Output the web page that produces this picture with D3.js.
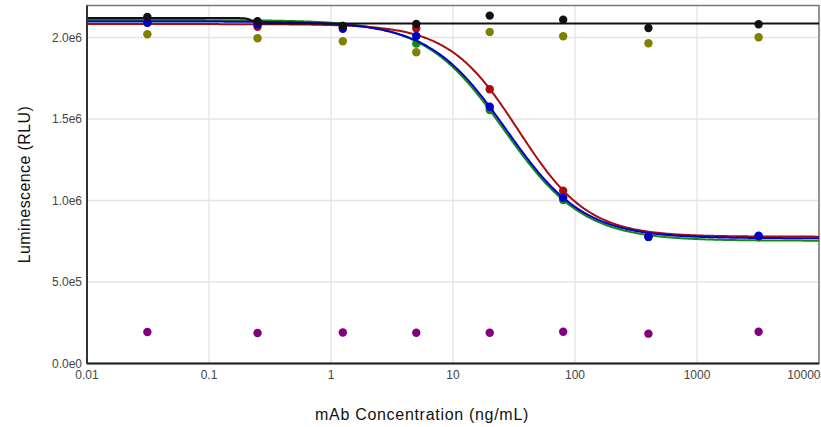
<!DOCTYPE html>
<html>
<head>
<meta charset="utf-8">
<script src="https://cdn.jsdelivr.net/npm/d3@7"></script>
<style>
    body { margin: 0; background: #fff; }
    svg { display: block; font-family: "Liberation Sans", Arial, sans-serif; }
</style>
</head>
<body>
<div id="curve-chart"></div>
<script>
// concentrations (ng/mL)
var concentrations = [0.03125, 0.25, 1.25, 5, 20, 80, 400, 3200];

// measured luminescence (RLU)
var red_values    = [2.09e6, 2.066e6, 2.07e6, 2.057e6, 1.682e6, 1.06e6, 0.78e6, 0.78e6];
var green_values  = [2.11e6, 2.09e6, 2.06e6, 1.962e6, 1.555e6, 1.003e6, 0.775e6, 0.775e6];
var blue_values   = [2.09e6, 2.08e6, 2.053e6, 2.009e6, 1.575e6, 1.017e6, 0.778e6, 0.784e6];
var black_values  = [2.126e6, 2.10e6, 2.07e6, 2.083e6, 2.134e6, 2.109e6, 2.058e6, 2.081e6];
var olive_values  = [2.02e6, 1.995e6, 1.977e6, 1.909e6, 2.034e6, 2.007e6, 1.964e6, 2.001e6];
var purple_values = [0.193e6, 0.187e6, 0.19e6, 0.189e6, 0.189e6, 0.195e6, 0.183e6, 0.195e6];

// 4PL fit parameters: [top, bottom, EC50, hill]
var red_fit   = [2.082e6, 0.778e6, 34.4, 1.52];
var green_fit = [2.107e6, 0.753e6, 26.4, 1.34];
var blue_fit  = [2.098e6, 0.768e6, 27.4, 1.37];
var black_fit = [2.119e6, 2.085e6, 0.225, 20];

var x_ticks = [0.01, 0.1, 1, 10, 100, 1000, 10000];
var x_tick_labels = ["0.01", "0.1", "1", "10", "100", "1000", "10000"];
var y_ticks = [0, 0.5e6, 1.0e6, 1.5e6, 2.0e6];
var y_tick_labels = ["0.0e0", "5.0e5", "1.0e6", "1.5e6", "2.0e6"];

var series = [
    { name: "purple", color: "#800080", values: purple_values, fit: null },
    { name: "olive",  color: "#808000", values: olive_values,  fit: null },
    { name: "green",  color: "#118a11", values: green_values,  fit: green_fit },
    { name: "red",    color: "#a80c0c", values: red_values,    fit: red_fit },
    { name: "blue",   color: "#0000cc", values: blue_values,   fit: blue_fit },
    { name: "black",  color: "#111111", values: black_values,  fit: black_fit }
];

const margin = { top: 5.5, left: 87, right: 2, bottom: 63.5 };
const svg = d3.select("#curve-chart").append("svg")
    .attr("width", 821)
    .attr("height", 427);
const width = 821 - margin.left - margin.right;
const height = 427 - margin.top - margin.bottom;
const canvas = svg.append("g")
    .attr("transform", `translate(${margin.left},${margin.top})`);

var xScale = d3.scaleLog().domain([0.01, 10000]).range([0, width]);
var yScale = d3.scaleLinear().domain([0, 2.196e6]).range([height, 0]);

// grid
canvas.append("g")
    .selectAll("line")
    .data(x_ticks)
    .join("line")
    .attr("x1", function (d) { return xScale(d); })
    .attr("x2", function (d) { return xScale(d); })
    .attr("y1", 0)
    .attr("y2", height)
    .attr("stroke", "#dcdcdc")
    .attr("stroke-width", 1);

canvas.append("g")
    .selectAll("line")
    .data(y_ticks)
    .join("line")
    .attr("x1", 0)
    .attr("x2", width)
    .attr("y1", function (d) { return yScale(d); })
    .attr("y2", function (d) { return yScale(d); })
    .attr("stroke", "#e4e4e4")
    .attr("stroke-width", 1.5);

// frame
canvas.append("rect")
    .attr("x", 0).attr("y", 0)
    .attr("width", width).attr("height", height)
    .attr("fill", "none")
    .attr("stroke", "#777")
    .attr("stroke-width", 1.5);

function four_pl(p, x)
{
    return p[1] + (p[0] - p[1]) / (1 + Math.pow(x / p[2], p[3]));
}

var line = d3.line()
    .x(function (d) { return xScale(d[0]); })
    .y(function (d) { return yScale(d[1]); })
    .curve(d3.curveLinear);

var plot = canvas.append("g");

series.forEach(function (s) {
    if (s.fit) {
        var pts = d3.range(0, 601).map(function (i) {
            var x = Math.pow(10, -2 + 6 * i / 600);
            return [x, four_pl(s.fit, x)];
        });
        plot.append("path")
            .datum(pts)
            .attr("fill", "none")
            .attr("stroke", s.color)
            .attr("stroke-width", 2)
            .attr("d", line);
    }
    plot.append("g")
        .selectAll("circle")
        .data(s.values)
        .join("circle")
        .attr("cx", function (d, i) { return xScale(concentrations[i]); })
        .attr("cy", function (d) { return yScale(d); })
        .attr("r", 4.2)
        .attr("fill", s.color);
});

// axes lines
canvas.append("line")
    .attr("x1", 0).attr("x2", 0).attr("y1", 0).attr("y2", height)
    .attr("stroke", "#333").attr("stroke-width", 2);
canvas.append("line")
    .attr("x1", 0).attr("x2", width).attr("y1", height).attr("y2", height)
    .attr("stroke", "#222").attr("stroke-width", 2);

// tick labels
canvas.append("g")
    .selectAll("text")
    .data(y_ticks)
    .join("text")
    .attr("x", -5)
    .attr("y", function (d) { return yScale(d) + 4.5; })
    .attr("text-anchor", "end")
    .attr("font-size", 12)
    .attr("fill", "#444")
    .text(function (d, i) { return y_tick_labels[i]; });

canvas.append("g")
    .selectAll("text")
    .data(x_ticks)
    .join("text")
    .attr("x", function (d, i) { return i === x_ticks.length - 1 ? width + 1.5 : xScale(d); })
    .attr("y", height + 15.5)
    .attr("text-anchor", function (d, i) { return i === x_ticks.length - 1 ? "end" : "middle"; })
    .attr("font-size", 12)
    .attr("fill", "#444")
    .text(function (d, i) { return x_tick_labels[i]; });

// axis titles
svg.append("text")
    .attr("x", 422)
    .attr("y", 420)
    .attr("text-anchor", "middle")
    .attr("font-size", 16)
    .attr("letter-spacing", 0.7)
    .attr("fill", "#111")
    .text("mAb Concentration (ng/mL)");

svg.append("text")
    .attr("transform", "translate(30," + (margin.top + height / 2) + ") rotate(-90)")
    .attr("text-anchor", "middle")
    .attr("font-size", 16)
    .attr("letter-spacing", 0.4)
    .attr("fill", "#111")
    .text("Luminescence (RLU)");
</script>
</body>
</html>
